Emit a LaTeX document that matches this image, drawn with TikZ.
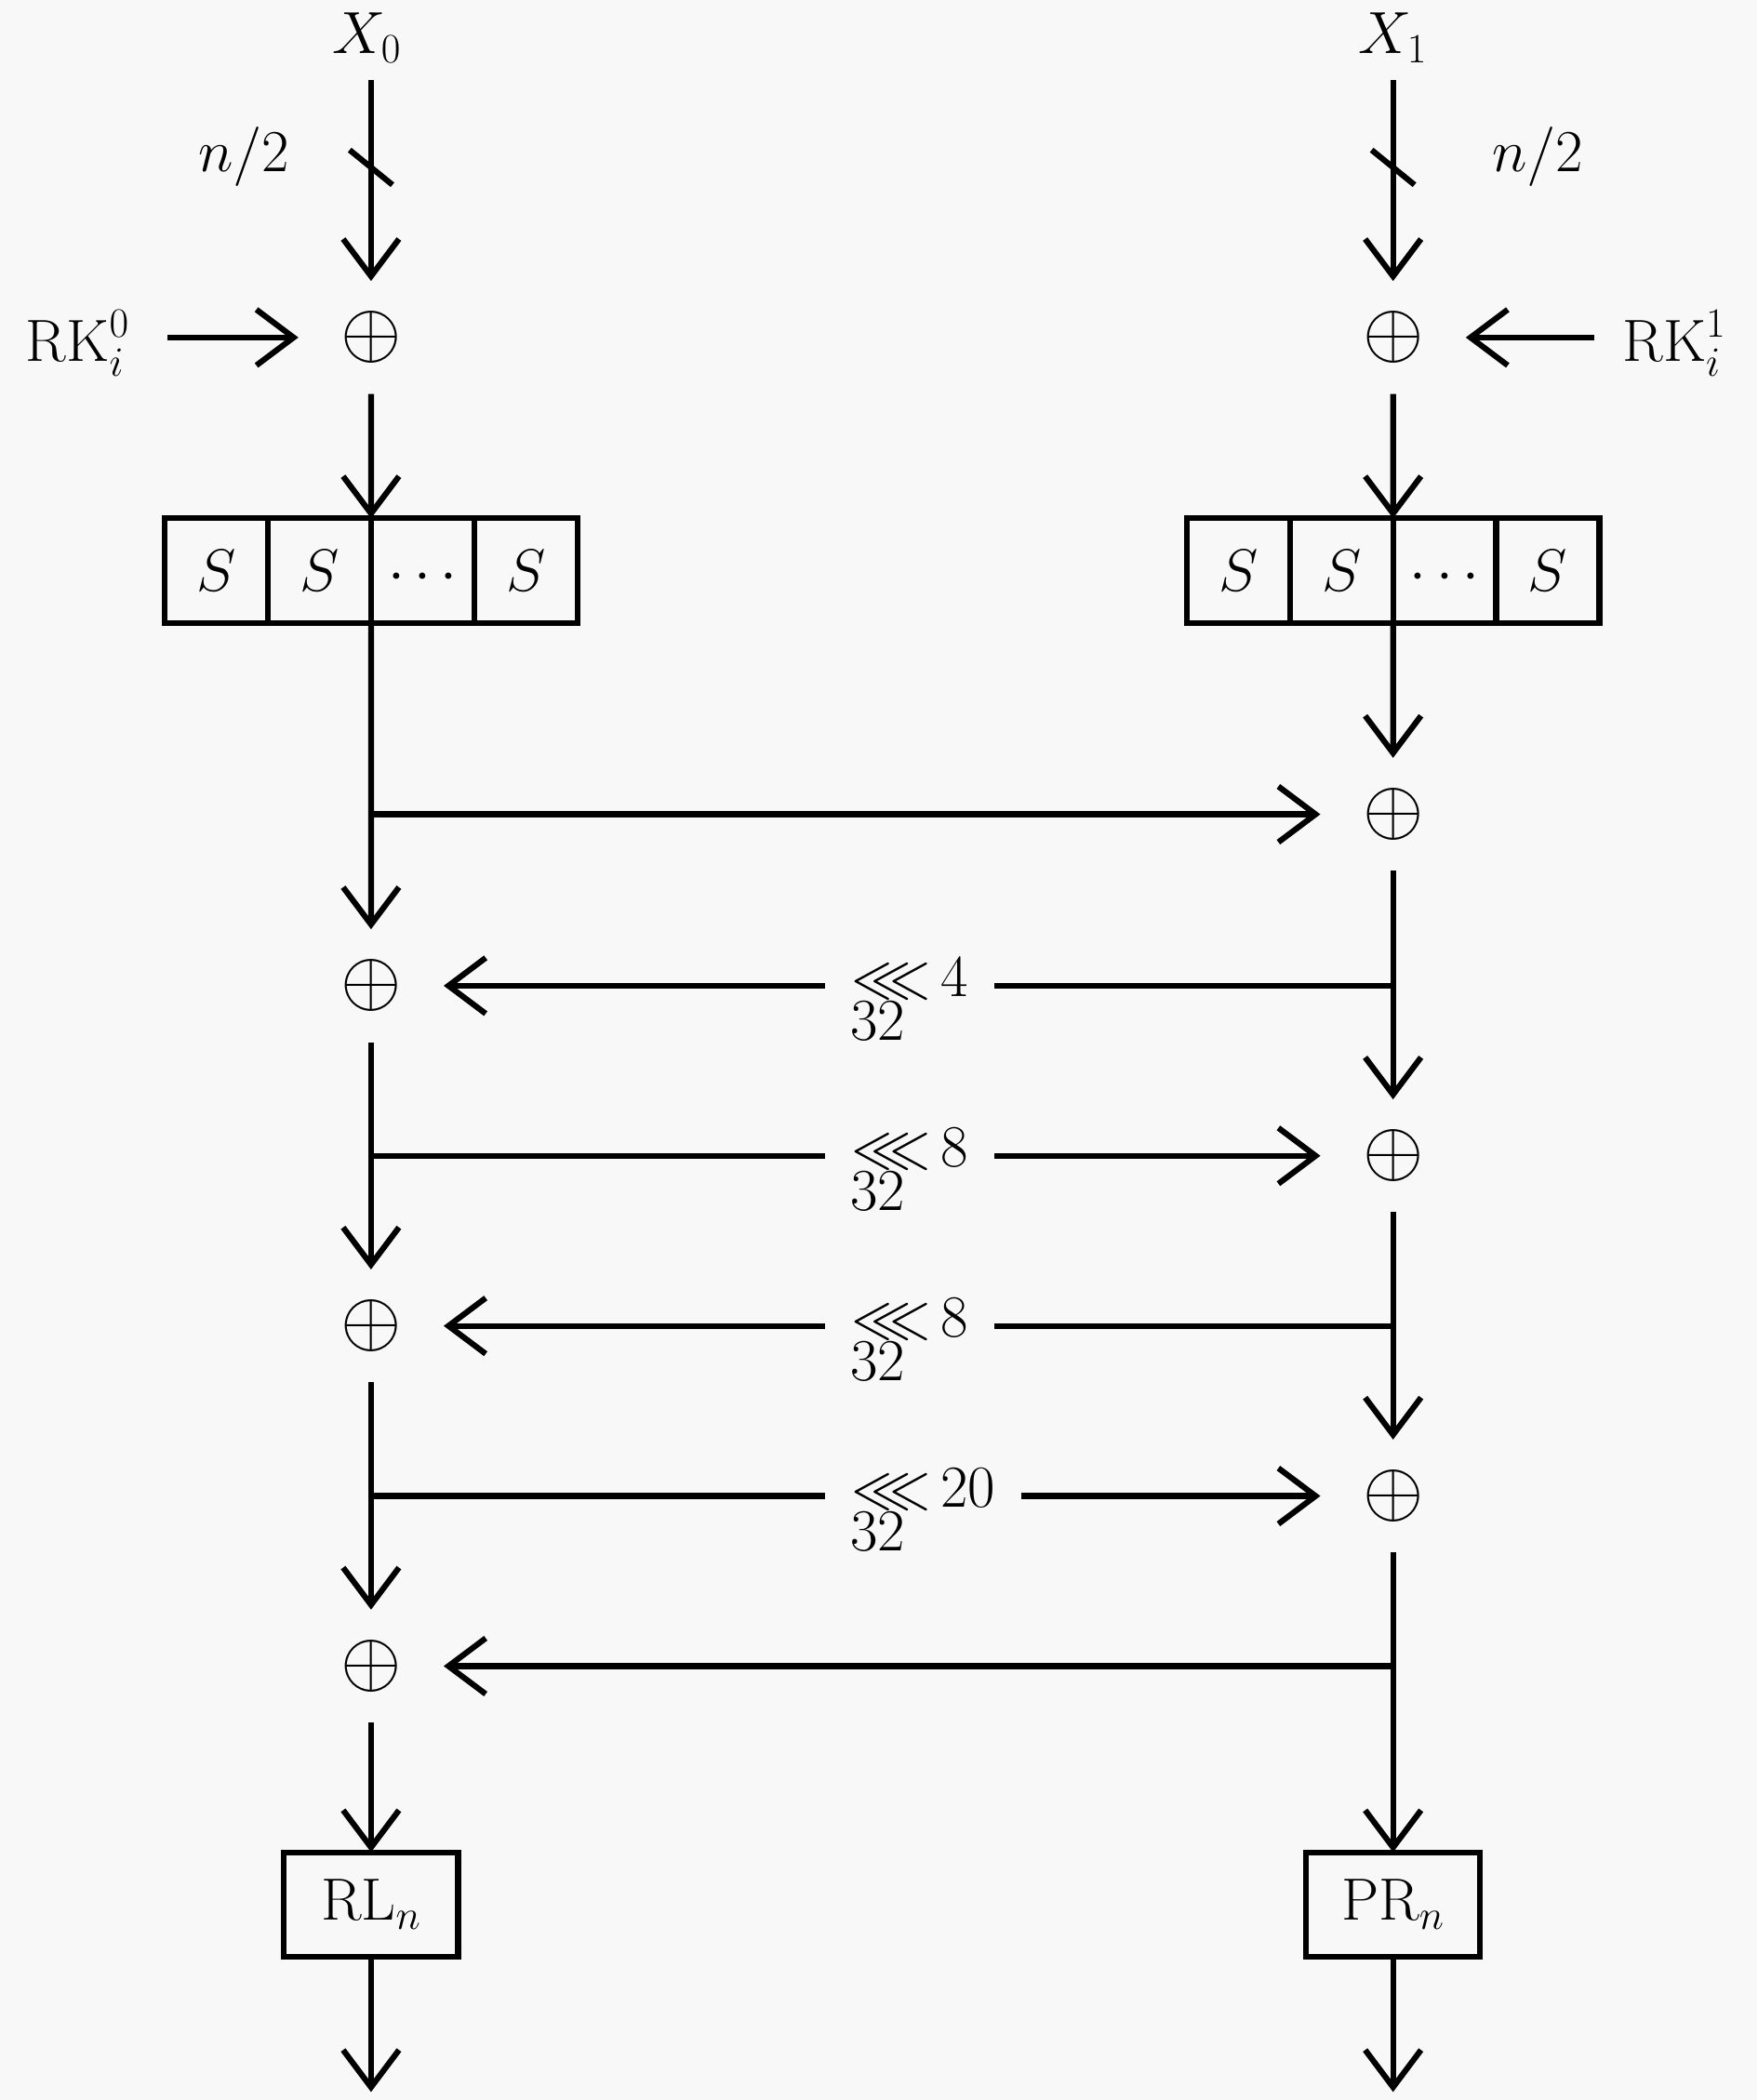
\documentclass[tikz,border=0pt]{standalone}
\usepackage{fix-cm}
\usepackage{amssymb}
\usetikzlibrary{arrows.meta}
\definecolor{bg}{RGB}{248,248,248}
\begin{document}
\begin{tikzpicture}[x=0.72pt,y=-0.72pt, line width=3.1pt,
  arr/.style={-{Straight Barb[length=20pt,width=30pt]}},
  txt/.style={font=\fontsize{32}{38}\selectfont, inner sep=0pt},
  xorn/.style={inner sep=0pt, font=\fontsize{42}{48}\selectfont, minimum width=75pt, minimum height=57.6pt},
  cell/.style={draw, txt, text height=22pt, text depth=0pt, minimum width=55.44pt, minimum height=56.16pt, outer sep=0pt},
  outbox/.style={draw, txt, minimum width=93.6pt, minimum height=56.16pt, outer sep=0pt},
  rot/.style={txt, fill=bg, inner xsep=14pt, inner ysep=2pt, anchor=base west},
  rotsub/.style={txt, anchor=base west}]
\fill[bg] (0,0) rectangle (1312,1568);
\useasboundingbox (0,0) rectangle (1312,1568);
% inputs
\node[txt, anchor=base] (X0) at (274,40) {$X_0$};
\node[txt, anchor=base] (X1) at (1040,40) {$X_1$};
\coordinate (t0) at (277,60);
\coordinate (t1) at (1040,60);
\node[txt] (n0) at (182,117) {$n/2$};
\node[txt] (n1) at (1148,117) {$n/2$};
% key addition
\node[xorn] (xl1) at (277,252) {$\oplus$};
\node[xorn] (xr1) at (1040,252) {$\oplus$};
\node[txt, anchor=base] (rk0) at (58,270) {$\mathrm{RK}_i^0$};
\node[txt, anchor=base] (rk1) at (1250,270) {$\mathrm{RK}_i^1$};
\coordinate (k0) at (125,252);
\coordinate (k1) at (1190,252);
% S-boxes
\node[cell] (sL1) at (161.5,426) {$S$};
\node[cell] (sL2) at (238.5,426) {$S$};
\node[cell] (sL3) at (315.5,426) {$\cdots$};
\node[cell] (sL4) at (392.5,426) {$S$};
\node[cell] (sR1) at (924.5,426) {$S$};
\node[cell] (sR2) at (1001.5,426) {$S$};
\node[cell] (sR3) at (1078.5,426) {$\cdots$};
\node[cell] (sR4) at (1155.5,426) {$S$};
% xor chain
\node[xorn] (xr2) at (1040,608) {$\oplus$};
\node[xorn] (xl3) at (277,736) {$\oplus$};
\node[xorn] (xr3) at (1040,863) {$\oplus$};
\node[xorn] (xl4) at (277,990) {$\oplus$};
\node[xorn] (xr4) at (1040,1117) {$\oplus$};
\node[xorn] (xl5) at (277,1244) {$\oplus$};
% outputs
\node[outbox] (RL) at (277,1422) {$\mathrm{RL}_n$};
\node[outbox] (PR) at (1040,1422) {$\mathrm{PR}_n$};
\coordinate (e0) at (277,1562);
\coordinate (e1) at (1040,1562);
% connectors
\draw[arr] (t0) -- (xl1);
\draw[arr] (t1) -- (xr1);
\draw (277,125) +(-16,-13) -- +(16,13);
\draw (1040,125) +(-16,-13) -- +(16,13);
\draw[arr] (k0) -- (xl1);
\draw[arr] (k1) -- (xr1);
\draw[arr] (xl1) -- (sL2.north east);
\draw[arr] (xr1) -- (sR2.north east);
\draw[arr] (sL2.south east) -- (xl3);
\draw[arr] (sL2.south east |- xr2) -- (xr2);
\draw[arr] (sR2.south east) -- (xr2);
\draw[arr] (xr2) -- (xr3);
\draw[arr] (xr2 |- xl3) -- (xl3);
\draw[arr] (xl3) -- (xl4);
\draw[arr] (xl3 |- xr3) -- (xr3);
\draw[arr] (xr3) -- (xr4);
\draw[arr] (xr3 |- xl4) -- (xl4);
\draw[arr] (xl4) -- (xl5);
\draw[arr] (xl4 |- xr4) -- (xr4);
\draw[arr] (xr4) -- (PR);
\draw[arr] (xr4 |- xl5) -- (xl5);
\draw[arr] (xl5) -- (RL);
\draw[arr] (RL) -- (e0);
\draw[arr] (PR) -- (e1);
% rotation labels
\node[rot] (r1) at (614,744) {${\lll}\mkern3mu 4$};
\node[rotsub] (r1s) at (633,777) {$32$};
\node[rot] (r2) at (614,871) {${\lll}\mkern3mu 8$};
\node[rotsub] (r2s) at (633,904) {$32$};
\node[rot] (r3) at (614,998) {${\lll}\mkern3mu 8$};
\node[rotsub] (r3s) at (633,1031) {$32$};
\node[rot] (r4) at (614,1125) {${\lll}\mkern3mu 20$};
\node[rotsub] (r4s) at (633,1158) {$32$};
\end{tikzpicture}
\end{document}
